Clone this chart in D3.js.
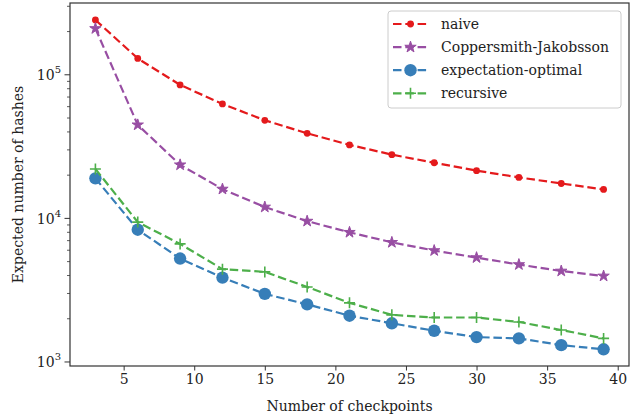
<!DOCTYPE html>
<html><head><meta charset="utf-8">
<script src="https://cdn.jsdelivr.net/npm/d3@7"></script>
<style>body{margin:0;background:#fff}svg{display:block}</style>
</head><body><svg id="c" width="643" height="416"></svg>
<script>
const checkpoints = [3,6,9,12,15,18,21,24,27,30,33,36,39];
const naive = [241000,130000,85000,62700,48200,39100,32500,27800,24400,21500,19300,17500,15900];
const coppersmith = [210000,44800,23600,16000,12000,9570,8000,6810,5970,5330,4770,4300,3970];
const expectationOptimal = [19000,8340,5250,3870,2980,2520,2100,1860,1650,1490,1460,1310,1225];
const recursive = [22100,9420,6640,4430,4240,3330,2580,2130,2040,2040,1900,1670,1460];
const xTicks = [5,10,15,20,25,30,35,40];
const yTicks = [1000,10000,100000];
const yTickExp = ["3","4","5"];
const seriesNames = ["naive","Coppersmith-Jakobsson","expectation-optimal","recursive"];

const FONT = "'DejaVu Serif', 'Liberation Serif', 'Times New Roman', serif";
const series = [
  {name:seriesNames[0], values:naive, color:"#e41a1c", marker:"dot"},
  {name:seriesNames[1], values:coppersmith, color:"#984ea3", marker:"star"},
  {name:seriesNames[2], values:expectationOptimal, color:"#377eb8", marker:"big"},
  {name:seriesNames[3], values:recursive, color:"#4daf4a", marker:"plus"}
];

const L=70, R=629, T=3, B=366;
const svg = d3.select("#c");
const x = d3.scaleLinear().domain([1.2,40.8]).range([L,R]);
const y = d3.scaleLog().domain([Math.pow(10,2.972),Math.pow(10,5.5)]).range([B,T]);

// x axis
const xa = svg.append("g").attr("transform",`translate(0,${B})`)
  .call(d3.axisBottom(x).tickValues(xTicks).tickSize(4.5).tickPadding(4).tickFormat(d3.format("d")));
xa.attr("font-family",FONT).attr("font-size",14);
xa.select(".domain").remove();
xa.selectAll("line").attr("stroke","#333");
xa.selectAll("text").attr("fill","#222");

// y axis minor ticks
const minor=[];
[100,1000,10000,100000].forEach(d=>{for(let k=2;k<=9;k++){const v=d*k; if(v>=y.domain()[0]&&v<=y.domain()[1]) minor.push(v);}});
svg.append("g").selectAll("line").data(minor).join("line")
  .attr("x1",L).attr("x2",L-3).attr("y1",d=>y(d)).attr("y2",d=>y(d)).attr("stroke","#333").attr("stroke-width",0.8);
svg.append("g").selectAll("line").data(yTicks).join("line")
  .attr("x1",L).attr("x2",L-5.5).attr("y1",d=>y(d)).attr("y2",d=>y(d)).attr("stroke","#333").attr("stroke-width",1);
const yl = svg.append("g").attr("font-family",FONT).attr("fill","#222").selectAll("text").data(yTicks).join("text")
  .attr("x",L-9).attr("y",d=>y(d)+5.5).attr("text-anchor","end").attr("font-size",14);
yl.append("tspan").text("10");
yl.append("tspan").attr("font-size",10).attr("dy",-7).text((d,i)=>yTickExp[i]);

// axis titles
svg.append("text").attr("font-family",FONT).attr("fill","#222").attr("x",(L+R)/2).attr("y",411).attr("text-anchor","middle").attr("font-size",14).text("Number of checkpoints");
svg.append("text").attr("font-family",FONT).attr("fill","#222").attr("transform",`translate(23,${(T+B)/2}) rotate(-90)`).attr("text-anchor","middle").attr("font-size",14).text("Expected number of hashes");

function drawMarker(g, m, color){
  if(m==="dot") g.append("circle").attr("r",3.4).attr("fill",color);
  else if(m==="big") g.append("circle").attr("r",6.2).attr("fill",color);
  else if(m==="star") g.append("path").attr("d",d3.symbol(d3.symbolStar,40)()).attr("fill",color).attr("stroke",color).attr("stroke-width",1);
  else if(m==="plus") g.append("path").attr("d","M-5.5,0H5.5M0,-5.5V5.5").attr("stroke",color).attr("stroke-width",1.6).attr("fill","none");
}

const line = d3.line().x((d,i)=>x(checkpoints[i])).y(d=>y(d));
const plot = svg.append("g");
series.forEach(s=>{
  plot.append("path").attr("d",line(s.values)).attr("fill","none").attr("stroke",s.color)
    .attr("stroke-width",2.2).attr("stroke-dasharray","8.5,3.8");
  s.values.forEach((v,i)=>{
    const g = plot.append("g").attr("transform",`translate(${x(checkpoints[i])},${y(v)})`);
    drawMarker(g,s.marker,s.color);
  });
});

// frame
svg.append("rect").attr("x",L).attr("y",T).attr("width",R-L).attr("height",B-T)
  .attr("fill","none").attr("stroke","#333").attr("stroke-width",1.2);

// legend
const lg = svg.append("g");
lg.append("rect").attr("x",388).attr("y",11).attr("width",233).attr("height",97).attr("rx",3)
  .attr("fill","#fff").attr("fill-opacity",0.8).attr("stroke","#ccc").attr("stroke-width",1);
series.forEach((s,i)=>{
  const yy = 24 + i*23.1;
  lg.append("line").attr("x1",393).attr("x2",428).attr("y1",yy).attr("y2",yy)
    .attr("stroke",s.color).attr("stroke-width",2.2).attr("stroke-dasharray","8.5,3.8");
  const g = lg.append("g").attr("transform",`translate(410.5,${yy})`);
  drawMarker(g,s.marker,s.color);
  lg.append("text").attr("font-family",FONT).attr("fill","#222").attr("x",441).attr("y",yy+5).attr("font-size",14).text(s.name);
});
</script></body></html>
